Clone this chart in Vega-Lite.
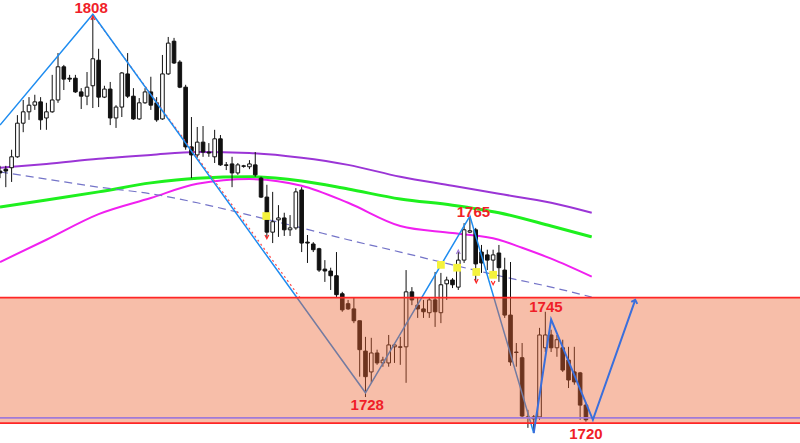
{
  "$schema": "https://vega.github.io/schema/vega-lite/v6.json",
  "width": 800,
  "height": 443,
  "autosize": {"type": "none"},
  "padding": 0,
  "background": "white",
  "config": {"view": {"stroke": null}, "scale": {"continuousPadding": 0}},
  "datasets": {
    "candles": [
      {"k":0,"o":1774.9,"h":1776.0,"l":1773.4,"c":1774.5},
      {"k":1,"o":1775.3,"h":1776.0,"l":1771.5,"c":1774.9},
      {"k":2,"o":1775.6,"h":1779.4,"l":1772.6,"c":1777.9},
      {"k":3,"o":1777.9,"h":1786.7,"l":1777.7,"c":1785.0},
      {"k":4,"o":1785.0,"h":1789.9,"l":1783.1,"c":1787.4},
      {"k":5,"o":1787.4,"h":1790.5,"l":1785.7,"c":1788.8},
      {"k":6,"o":1788.8,"h":1791.0,"l":1787.8,"c":1789.5},
      {"k":7,"o":1789.5,"h":1790.5,"l":1783.6,"c":1785.7},
      {"k":8,"o":1786.1,"h":1789.3,"l":1783.6,"c":1787.4},
      {"k":9,"o":1787.4,"h":1795.2,"l":1787.2,"c":1789.9},
      {"k":10,"o":1789.9,"h":1799.8,"l":1789.3,"c":1796.9},
      {"k":11,"o":1796.9,"h":1797.3,"l":1792.0,"c":1794.3},
      {"k":12,"o":1794.5,"h":1795.2,"l":1793.7,"c":1794.3},
      {"k":13,"o":1794.5,"h":1795.2,"l":1791.4,"c":1791.6},
      {"k":14,"o":1791.6,"h":1792.4,"l":1788.0,"c":1790.7},
      {"k":15,"o":1790.7,"h":1795.8,"l":1788.8,"c":1792.6},
      {"k":16,"o":1792.9,"h":1808.0,"l":1788.2,"c":1798.6},
      {"k":17,"o":1798.3,"h":1800.7,"l":1788.4,"c":1790.5},
      {"k":18,"o":1790.5,"h":1792.9,"l":1790.3,"c":1792.2},
      {"k":19,"o":1792.2,"h":1793.7,"l":1784.6,"c":1786.1},
      {"k":20,"o":1786.1,"h":1788.8,"l":1784.0,"c":1788.4},
      {"k":21,"o":1788.4,"h":1795.8,"l":1786.3,"c":1795.6},
      {"k":22,"o":1795.4,"h":1799.8,"l":1790.3,"c":1790.7},
      {"k":23,"o":1790.7,"h":1792.4,"l":1785.7,"c":1785.9},
      {"k":24,"o":1785.9,"h":1790.3,"l":1785.7,"c":1789.3},
      {"k":25,"o":1789.3,"h":1792.4,"l":1789.1,"c":1791.6},
      {"k":26,"o":1791.6,"h":1794.8,"l":1787.8,"c":1788.8},
      {"k":27,"o":1789.3,"h":1790.5,"l":1785.3,"c":1785.7},
      {"k":28,"o":1785.9,"h":1799.4,"l":1785.7,"c":1795.4},
      {"k":29,"o":1795.4,"h":1803.2,"l":1795.2,"c":1801.9},
      {"k":30,"o":1802.3,"h":1803.0,"l":1797.5,"c":1797.7},
      {"k":31,"o":1797.9,"h":1798.3,"l":1792.4,"c":1792.6},
      {"k":32,"o":1792.6,"h":1793.1,"l":1779.4,"c":1780.0},
      {"k":33,"o":1780.0,"h":1786.3,"l":1773.4,"c":1778.3},
      {"k":34,"o":1778.3,"h":1784.2,"l":1777.7,"c":1781.0},
      {"k":35,"o":1781.0,"h":1784.4,"l":1777.9,"c":1778.9},
      {"k":36,"o":1778.9,"h":1780.8,"l":1777.9,"c":1778.7},
      {"k":37,"o":1777.9,"h":1783.6,"l":1776.6,"c":1781.7},
      {"k":38,"o":1781.7,"h":1782.5,"l":1776.0,"c":1776.2},
      {"k":39,"o":1776.2,"h":1776.8,"l":1775.1,"c":1776.1},
      {"k":40,"o":1776.4,"h":1777.9,"l":1771.5,"c":1774.5},
      {"k":41,"o":1774.5,"h":1776.6,"l":1774.1,"c":1776.2},
      {"k":42,"o":1776.0,"h":1776.2,"l":1775.6,"c":1775.9},
      {"k":43,"o":1775.8,"h":1777.2,"l":1775.3,"c":1776.4},
      {"k":44,"o":1776.2,"h":1778.9,"l":1773.7,"c":1774.1},
      {"k":45,"o":1773.4,"h":1773.7,"l":1769.2,"c":1769.4},
      {"k":46,"o":1769.4,"h":1772.0,"l":1760.8,"c":1762.0},
      {"k":47,"o":1762.0,"h":1770.5,"l":1759.7,"c":1764.2},
      {"k":48,"o":1764.6,"h":1767.7,"l":1761.0,"c":1765.0},
      {"k":49,"o":1765.0,"h":1766.1,"l":1761.2,"c":1762.5},
      {"k":50,"o":1762.5,"h":1765.6,"l":1761.2,"c":1762.9},
      {"k":51,"o":1762.9,"h":1771.3,"l":1762.5,"c":1770.5},
      {"k":52,"o":1770.9,"h":1771.5,"l":1757.8,"c":1759.7},
      {"k":53,"o":1759.9,"h":1761.4,"l":1755.5,"c":1759.7},
      {"k":54,"o":1759.5,"h":1759.9,"l":1757.8,"c":1758.3},
      {"k":55,"o":1758.5,"h":1758.7,"l":1753.6,"c":1754.0},
      {"k":56,"o":1754.2,"h":1756.1,"l":1751.5,"c":1753.8},
      {"k":57,"o":1753.8,"h":1754.5,"l":1749.8,"c":1752.8},
      {"k":58,"o":1752.8,"h":1757.8,"l":1748.3,"c":1748.8},
      {"k":59,"o":1749.0,"h":1749.4,"l":1745.2,"c":1745.6},
      {"k":60,"o":1746.9,"h":1747.7,"l":1745.6,"c":1745.8},
      {"k":61,"o":1745.8,"h":1748.3,"l":1742.8,"c":1743.3},
      {"k":62,"o":1743.3,"h":1743.3,"l":1731.5,"c":1737.2},
      {"k":63,"o":1736.9,"h":1739.9,"l":1727.2,"c":1731.5},
      {"k":64,"o":1732.5,"h":1739.7,"l":1730.2,"c":1736.5},
      {"k":65,"o":1736.5,"h":1737.2,"l":1734.0,"c":1734.4},
      {"k":66,"o":1734.4,"h":1735.7,"l":1733.6,"c":1735.0},
      {"k":67,"o":1734.4,"h":1740.3,"l":1733.6,"c":1738.2},
      {"k":68,"o":1737.8,"h":1738.6,"l":1734.4,"c":1738.2},
      {"k":69,"o":1737.8,"h":1739.9,"l":1734.0,"c":1737.7},
      {"k":70,"o":1737.8,"h":1754.0,"l":1730.2,"c":1749.4},
      {"k":71,"o":1749.4,"h":1750.4,"l":1746.6,"c":1747.7},
      {"k":72,"o":1746.6,"h":1748.3,"l":1743.9,"c":1745.8},
      {"k":73,"o":1745.8,"h":1747.7,"l":1743.9,"c":1745.2},
      {"k":74,"o":1745.0,"h":1748.1,"l":1743.9,"c":1747.7},
      {"k":75,"o":1747.7,"h":1753.6,"l":1742.0,"c":1745.2},
      {"k":76,"o":1745.0,"h":1753.4,"l":1742.8,"c":1750.9},
      {"k":77,"o":1751.1,"h":1752.6,"l":1747.7,"c":1751.9},
      {"k":78,"o":1751.9,"h":1752.3,"l":1750.2,"c":1750.9},
      {"k":79,"o":1750.4,"h":1757.8,"l":1749.8,"c":1756.1},
      {"k":80,"o":1756.1,"h":1763.9,"l":1755.5,"c":1762.5},
      {"k":81,"o":1762.0,"h":1765.4,"l":1761.8,"c":1762.3},
      {"k":82,"o":1762.5,"h":1762.9,"l":1751.5,"c":1755.3},
      {"k":83,"o":1757.8,"h":1759.3,"l":1753.4,"c":1755.5},
      {"k":84,"o":1757.2,"h":1758.3,"l":1754.0,"c":1756.1},
      {"k":85,"o":1756.1,"h":1758.3,"l":1753.4,"c":1757.2},
      {"k":86,"o":1757.6,"h":1759.3,"l":1751.5,"c":1754.5},
      {"k":87,"o":1754.0,"h":1756.6,"l":1743.9,"c":1744.5},
      {"k":88,"o":1744.5,"h":1755.7,"l":1733.8,"c":1734.6},
      {"k":89,"o":1736.7,"h":1738.6,"l":1733.6,"c":1736.6},
      {"k":90,"o":1735.5,"h":1738.6,"l":1722.8,"c":1723.2},
      {"k":91,"o":1723.0,"h":1724.5,"l":1720.7,"c":1722.9},
      {"k":92,"o":1723.0,"h":1723.4,"l":1719.6,"c":1722.6},
      {"k":93,"o":1723.0,"h":1741.8,"l":1722.4,"c":1740.3},
      {"k":94,"o":1737.6,"h":1745.2,"l":1736.7,"c":1740.3},
      {"k":95,"o":1740.3,"h":1741.4,"l":1736.7,"c":1737.6},
      {"k":96,"o":1737.6,"h":1740.3,"l":1735.7,"c":1739.3},
      {"k":97,"o":1737.6,"h":1739.3,"l":1732.5,"c":1732.9},
      {"k":98,"o":1735.0,"h":1737.8,"l":1729.1,"c":1730.8},
      {"k":99,"o":1732.5,"h":1737.8,"l":1729.8,"c":1730.4},
      {"k":100,"o":1732.3,"h":1732.5,"l":1722.4,"c":1725.5},
      {"k":101,"o":1725.5,"h":1726.0,"l":1722.0,"c":1722.4}
    ],
    "ma": [
      {"s":"slow","k":0,"price":1775.6},{"s":"slow","k":8,"price":1776.4},{"s":"slow","k":17,"price":1777.5},{"s":"slow","k":26,"price":1778.3},{"s":"slow","k":34,"price":1778.9},{"s":"slow","k":43,"price":1778.7},{"s":"slow","k":52,"price":1777.7},{"s":"slow","k":60,"price":1776.2},{"s":"slow","k":69,"price":1773.7},{"s":"slow","k":78,"price":1771.8},{"s":"slow","k":86,"price":1770.1},{"s":"slow","k":95,"price":1768.2},{"s":"slow","k":102,"price":1766.1},
      {"s":"mid","k":0,"price":1767.3},{"s":"mid","k":8,"price":1768.8},{"s":"mid","k":17,"price":1770.5},{"s":"mid","k":26,"price":1772.4},{"s":"mid","k":34,"price":1773.4},{"s":"mid","k":43,"price":1773.7},{"s":"mid","k":52,"price":1772.8},{"s":"mid","k":60,"price":1771.1},{"s":"mid","k":69,"price":1769.0},{"s":"mid","k":78,"price":1767.7},{"s":"mid","k":86,"price":1766.1},{"s":"mid","k":95,"price":1763.3},{"s":"mid","k":102,"price":1761.0},
      {"s":"fast","k":0,"price":1755.7},{"s":"fast","k":8,"price":1760.4},{"s":"fast","k":17,"price":1765.8},{"s":"fast","k":26,"price":1769.2},{"s":"fast","k":34,"price":1772.2},{"s":"fast","k":43,"price":1773.2},{"s":"fast","k":52,"price":1771.8},{"s":"fast","k":60,"price":1768.2},{"s":"fast","k":69,"price":1763.3},{"s":"fast","k":78,"price":1761.8},{"s":"fast","k":86,"price":1760.4},{"s":"fast","k":90,"price":1758.7},{"s":"fast","k":95,"price":1756.4},{"s":"fast","k":102,"price":1752.6},
      {"s":"trend","k":0,"price":1774.7},{"s":"trend","k":8,"price":1773.2},{"s":"trend","k":17,"price":1771.5},{"s":"trend","k":26,"price":1770.1},{"s":"trend","k":34,"price":1768.2},{"s":"trend","k":43,"price":1765.6},{"s":"trend","k":52,"price":1762.9},{"s":"trend","k":60,"price":1760.4},{"s":"trend","k":69,"price":1757.8},{"s":"trend","k":78,"price":1755.1},{"s":"trend","k":86,"price":1752.8},{"s":"trend","k":95,"price":1750.4},{"s":"trend","k":102,"price":1748.3}
    ],
    "zig1": [
      {"k":0,"price":1784.6},{"k":16,"price":1808.0},{"k":63,"price":1728.1},{"k":81,"price":1765.4},{"k":92,"price":1719.6}
    ],
    "fib": [
      {"k":16.4,"price":1807.2},{"k":51.7,"price":1748.2}
    ],
    "zig2": [
      {"k":92,"price":1719.6},{"k":95,"price":1743.6},{"k":102.2,"price":1722.4},{"k":109.5,"price":1747.7}
    ],
    "arrow": [{"k":109.5,"price":1747.7}],
    "zone": [{"k0":0,"k1":137.9,"top":1748.2,"bottom":1721.7}],
    "levels": [
      {"kind":"zone edge","price":1748.2},
      {"kind":"zone edge","price":1721.7},
      {"kind":"support","price":1722.8}
    ],
    "signals": [
      {"k":45.9,"price":1765.4},{"k":76.0,"price":1755.1},{"k":78.8,"price":1754.5},{"k":82.1,"price":1753.6},{"k":85.0,"price":1753.0}
    ],
    "ticks": [
      {"k":16.0,"price":1807.2,"side":"up"},
      {"k":79.0,"price":1757.8,"side":"buy"},
      {"k":46.0,"price":1761.0,"side":"down"},
      {"k":82.1,"price":1751.7,"side":"down"},
      {"k":85.0,"price":1751.3,"side":"down"}
    ],
    "labels": [
      {"k":15.7,"price":1809.3,"label":"1808"},
      {"k":81.6,"price":1766.3,"label":"1765"},
      {"k":63.3,"price":1725.5,"label":"1728"},
      {"k":94.1,"price":1746.2,"label":"1745"},
      {"k":101.0,"price":1719.4,"label":"1720"}
    ]
  },
  "layer": [
    {
      "data": {"name": "ma"},
      "transform": [{"filter": "datum.s === 'slow'"}],
      "mark": {"type": "line", "interpolate": "monotone", "color": "#9b35d6", "strokeWidth": 2},
      "encoding": {
        "x": {"field": "k", "type": "quantitative", "scale": {"domain": [0, 137.9], "nice": false, "zero": false, "padding": 0}, "axis": null},
        "y": {"field": "price", "type": "quantitative", "scale": {"domain": [1717.5, 1811], "nice": false, "zero": false, "padding": 0}, "axis": null}
      }
    },
    {
      "data": {"name": "ma"},
      "transform": [{"filter": "datum.s === 'mid'"}],
      "mark": {"type": "line", "interpolate": "monotone", "color": "#1ef01e", "strokeWidth": 3},
      "encoding": {
        "x": {"field": "k", "type": "quantitative", "scale": {"domain": [0, 137.9], "nice": false, "zero": false, "padding": 0}, "axis": null},
        "y": {"field": "price", "type": "quantitative", "scale": {"domain": [1717.5, 1811], "nice": false, "zero": false, "padding": 0}, "axis": null}
      }
    },
    {
      "data": {"name": "ma"},
      "transform": [{"filter": "datum.s === 'fast'"}],
      "mark": {"type": "line", "interpolate": "monotone", "color": "#f020f0", "strokeWidth": 2},
      "encoding": {
        "x": {"field": "k", "type": "quantitative", "scale": {"domain": [0, 137.9], "nice": false, "zero": false, "padding": 0}, "axis": null},
        "y": {"field": "price", "type": "quantitative", "scale": {"domain": [1717.5, 1811], "nice": false, "zero": false, "padding": 0}, "axis": null}
      }
    },
    {
      "data": {"name": "ma"},
      "transform": [{"filter": "datum.s === 'trend'"}],
      "mark": {"type": "line", "interpolate": "monotone", "color": "#7474c8", "strokeWidth": 1.2, "strokeDash": [8, 5]},
      "encoding": {
        "x": {"field": "k", "type": "quantitative", "scale": {"domain": [0, 137.9], "nice": false, "zero": false, "padding": 0}, "axis": null},
        "y": {"field": "price", "type": "quantitative", "scale": {"domain": [1717.5, 1811], "nice": false, "zero": false, "padding": 0}, "axis": null}
      }
    },
    {
      "data": {"name": "candles"},
      "mark": {"type": "rule", "color": "#111111", "strokeWidth": 1, "clip": true},
      "encoding": {
        "x": {"field": "k", "type": "quantitative", "scale": {"domain": [0, 137.9], "nice": false, "zero": false, "padding": 0}, "axis": null},
        "y": {"field": "h", "type": "quantitative", "scale": {"domain": [1717.5, 1811], "nice": false, "zero": false, "padding": 0}, "axis": null},
        "y2": {"field": "l"}
      }
    },
    {
      "data": {"name": "candles"},
      "mark": {"type": "bar", "size": 3.6, "stroke": "#111111", "strokeWidth": 1, "clip": true},
      "encoding": {
        "x": {"field": "k", "type": "quantitative", "scale": {"domain": [0, 137.9], "nice": false, "zero": false, "padding": 0}, "axis": null},
        "y": {"field": "o", "type": "quantitative", "scale": {"domain": [1717.5, 1811], "nice": false, "zero": false, "padding": 0}, "axis": null},
        "y2": {"field": "c"},
        "fill": {"condition": {"test": "datum.c > datum.o", "value": "#ffffff"}, "value": "#111111"}
      }
    },
    {
      "data": {"name": "fib"},
      "mark": {"type": "line", "color": "#ff4a4a", "strokeWidth": 1.2, "strokeDash": [2, 3]},
      "encoding": {
        "x": {"field": "k", "type": "quantitative", "scale": {"domain": [0, 137.9], "nice": false, "zero": false, "padding": 0}, "axis": null},
        "y": {"field": "price", "type": "quantitative", "scale": {"domain": [1717.5, 1811], "nice": false, "zero": false, "padding": 0}, "axis": null}
      }
    },
    {
      "data": {"name": "zig1"},
      "mark": {"type": "line", "color": "#1e8cf0", "strokeWidth": 1.5},
      "encoding": {
        "x": {"field": "k", "type": "quantitative", "scale": {"domain": [0, 137.9], "nice": false, "zero": false, "padding": 0}, "axis": null},
        "y": {"field": "price", "type": "quantitative", "scale": {"domain": [1717.5, 1811], "nice": false, "zero": false, "padding": 0}, "axis": null}
      }
    },
    {
      "data": {"name": "zone"},
      "mark": {"type": "rect", "color": "#eb6432", "opacity": 0.42},
      "encoding": {
        "x": {"field": "k0", "type": "quantitative", "scale": {"domain": [0, 137.9], "nice": false, "zero": false, "padding": 0}, "axis": null},
        "x2": {"field": "k1"},
        "y": {"field": "top", "type": "quantitative", "scale": {"domain": [1717.5, 1811], "nice": false, "zero": false, "padding": 0}, "axis": null},
        "y2": {"field": "bottom"}
      }
    },
    {
      "data": {"name": "levels"},
      "mark": {"type": "rule", "strokeWidth": 1.8},
      "encoding": {
        "y": {"field": "price", "type": "quantitative", "scale": {"domain": [1717.5, 1811], "nice": false, "zero": false, "padding": 0}, "axis": null},
        "color": {"field": "kind", "type": "nominal", "scale": {"domain": ["zone edge", "support"], "range": ["#ff2626", "#a07ad8"]}, "legend": null}
      }
    },
    {
      "data": {"name": "zig2"},
      "mark": {"type": "line", "color": "#3a6fdc", "strokeWidth": 2},
      "encoding": {
        "x": {"field": "k", "type": "quantitative", "scale": {"domain": [0, 137.9], "nice": false, "zero": false, "padding": 0}, "axis": null},
        "y": {"field": "price", "type": "quantitative", "scale": {"domain": [1717.5, 1811], "nice": false, "zero": false, "padding": 0}, "axis": null}
      }
    },
    {
      "data": {"name": "arrow"},
      "mark": {"type": "point", "shape": "M -1 1 L 0 0 L 1 1", "filled": false, "stroke": "#3a6fdc", "strokeWidth": 2, "size": 40, "angle": 18, "opacity": 1},
      "encoding": {
        "x": {"field": "k", "type": "quantitative", "scale": {"domain": [0, 137.9], "nice": false, "zero": false, "padding": 0}, "axis": null},
        "y": {"field": "price", "type": "quantitative", "scale": {"domain": [1717.5, 1811], "nice": false, "zero": false, "padding": 0}, "axis": null}
      }
    },
    {
      "data": {"name": "ticks"},
      "mark": {"type": "point", "filled": false, "strokeWidth": 1.2, "size": 14, "opacity": 1},
      "encoding": {
        "x": {"field": "k", "type": "quantitative", "scale": {"domain": [0, 137.9], "nice": false, "zero": false, "padding": 0}, "axis": null},
        "y": {"field": "price", "type": "quantitative", "scale": {"domain": [1717.5, 1811], "nice": false, "zero": false, "padding": 0}, "axis": null},
        "shape": {"field": "side", "type": "nominal", "scale": {"domain": ["up", "buy", "down"], "range": ["M -1 1 L 0 -1 L 1 1", "M -1 1 L 0 -1 L 1 1", "M -1 -1 L 0 1 L 1 -1"]}, "legend": null},
        "color": {"field": "side", "type": "nominal", "scale": {"domain": ["up", "buy", "down"], "range": ["#5aa0f0", "#f04040", "#3050e0"]}, "legend": null}
      }
    },
    {
      "data": {"name": "signals"},
      "mark": {"type": "point", "shape": "square", "filled": true, "color": "#f4f23c", "size": 60, "opacity": 1},
      "encoding": {
        "x": {"field": "k", "type": "quantitative", "scale": {"domain": [0, 137.9], "nice": false, "zero": false, "padding": 0}, "axis": null},
        "y": {"field": "price", "type": "quantitative", "scale": {"domain": [1717.5, 1811], "nice": false, "zero": false, "padding": 0}, "axis": null}
      }
    },
    {
      "data": {"name": "labels"},
      "mark": {"type": "text", "font": "Liberation Sans", "fontWeight": "bold", "fontSize": 15, "color": "#f01e28", "baseline": "middle", "align": "center"},
      "encoding": {
        "x": {"field": "k", "type": "quantitative", "scale": {"domain": [0, 137.9], "nice": false, "zero": false, "padding": 0}, "axis": null},
        "y": {"field": "price", "type": "quantitative", "scale": {"domain": [1717.5, 1811], "nice": false, "zero": false, "padding": 0}, "axis": null},
        "text": {"field": "label"}
      }
    }
  ]
}
